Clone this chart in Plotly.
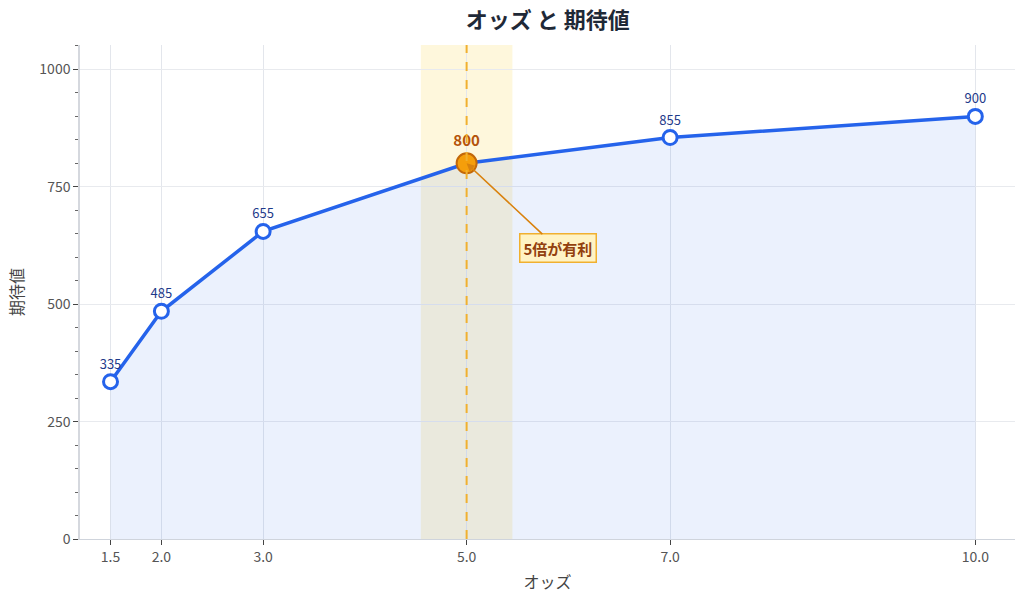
import plotly.graph_objects as go

odds = [1.5, 2.0, 3.0, 5.0, 7.0, 10.0]
expected = [335, 485, 655, 800, 855, 900]
tick_text = ["1.5", "2.0", "3.0", "5.0", "7.0", "10.0"]
best_odds = 5.0
best_value = 800
best_label = "5倍が有利"

FONT = "Noto Sans CJK JP"
BLUE = "#2563eb"


def build_figure() -> go.Figure:
    fig = go.Figure()

    # highlight band around the best odds
    fig.add_vrect(x0=best_odds - 0.45, x1=best_odds + 0.45,
                  fillcolor="rgba(250,204,21,0.15)", line_width=0, layer="below")

    others_x = [x for x in odds if x != best_odds]
    others_y = [y for x, y in zip(odds, expected) if x != best_odds]

    fig.add_scatter(x=odds, y=expected, mode="lines",
                    line=dict(color=BLUE, width=3.5),
                    fill="tozeroy", fillcolor="rgba(37,99,235,0.09)",
                    hoverinfo="skip", showlegend=False)
    fig.add_scatter(x=others_x, y=others_y, mode="markers+text",
                    marker=dict(size=14, color="white", line=dict(color=BLUE, width=3)),
                    text=[str(v) for v in others_y], textposition="top center",
                    textfont=dict(family=FONT, size=13, color="#1e3a8a"),
                    showlegend=False)
    fig.add_scatter(x=[best_odds], y=[best_value], mode="markers+text",
                    marker=dict(size=20, color="#f59e0b", line=dict(color="#c2680a", width=2)),
                    text=[f"<b>{best_value}</b>"], textposition="top center",
                    textfont=dict(family=FONT, size=15, color="#b45309"),
                    showlegend=False)

    fig.add_vline(x=best_odds, line=dict(color="#f0b030", width=2, dash="dash"))

    fig.add_annotation(x=best_odds, y=best_value, ax=91, ay=85,
                       text=f"<b>{best_label}</b>", showarrow=True,
                       arrowhead=2, arrowsize=1, arrowwidth=1.6, arrowcolor="#d9820e",
                       font=dict(family=FONT, size=15, color="#92400e"),
                       bgcolor="#fff3c4", bordercolor="#f0b030", borderwidth=1.5, borderpad=3)

    fig.update_layout(
        width=1024, height=600,
        title=dict(text="<b>オッズ と 期待値</b>", x=0.535, xanchor="center",
                   y=0.967, yanchor="middle",
                   font=dict(family=FONT, size=22, color="#1f2937")),
        font=dict(family=FONT, size=14, color="#555"),
        paper_bgcolor="white", plot_bgcolor="white",
        margin=dict(l=80, r=9, t=45, b=61),
    )
    fig.update_xaxes(range=[1.2, 10.39], tickvals=odds, ticktext=tick_text, automargin=False,
                     title=dict(text="オッズ", font=dict(size=16, color="#444"), standoff=12),
                     showgrid=True, gridcolor="#e3e6ec", zeroline=False,
                     showline=True, linecolor="#cfd4dc", linewidth=1,
                     ticks="outside", ticklen=5, tickcolor="#444")
    fig.update_yaxes(range=[0, 1052], tick0=0, dtick=250, automargin=False,
                     title=dict(text="期待値", font=dict(size=16, color="#444"), standoff=12),
                     showgrid=True, gridcolor="#e8eaee", zeroline=False,
                     showline=True, linecolor="#d5d8de", linewidth=1.5,
                     ticks="outside", ticklen=5, tickcolor="#444",
                     minor=dict(dtick=50, ticks="outside", ticklen=3, tickcolor="#666",
                                showgrid=False))
    return fig


fig = build_figure()
# drop the browser's default 8px body margin so the figure fills the window
fig.write_html("out.html", config={"displayModeBar": False},
               post_script="document.body.style.margin='0';")
